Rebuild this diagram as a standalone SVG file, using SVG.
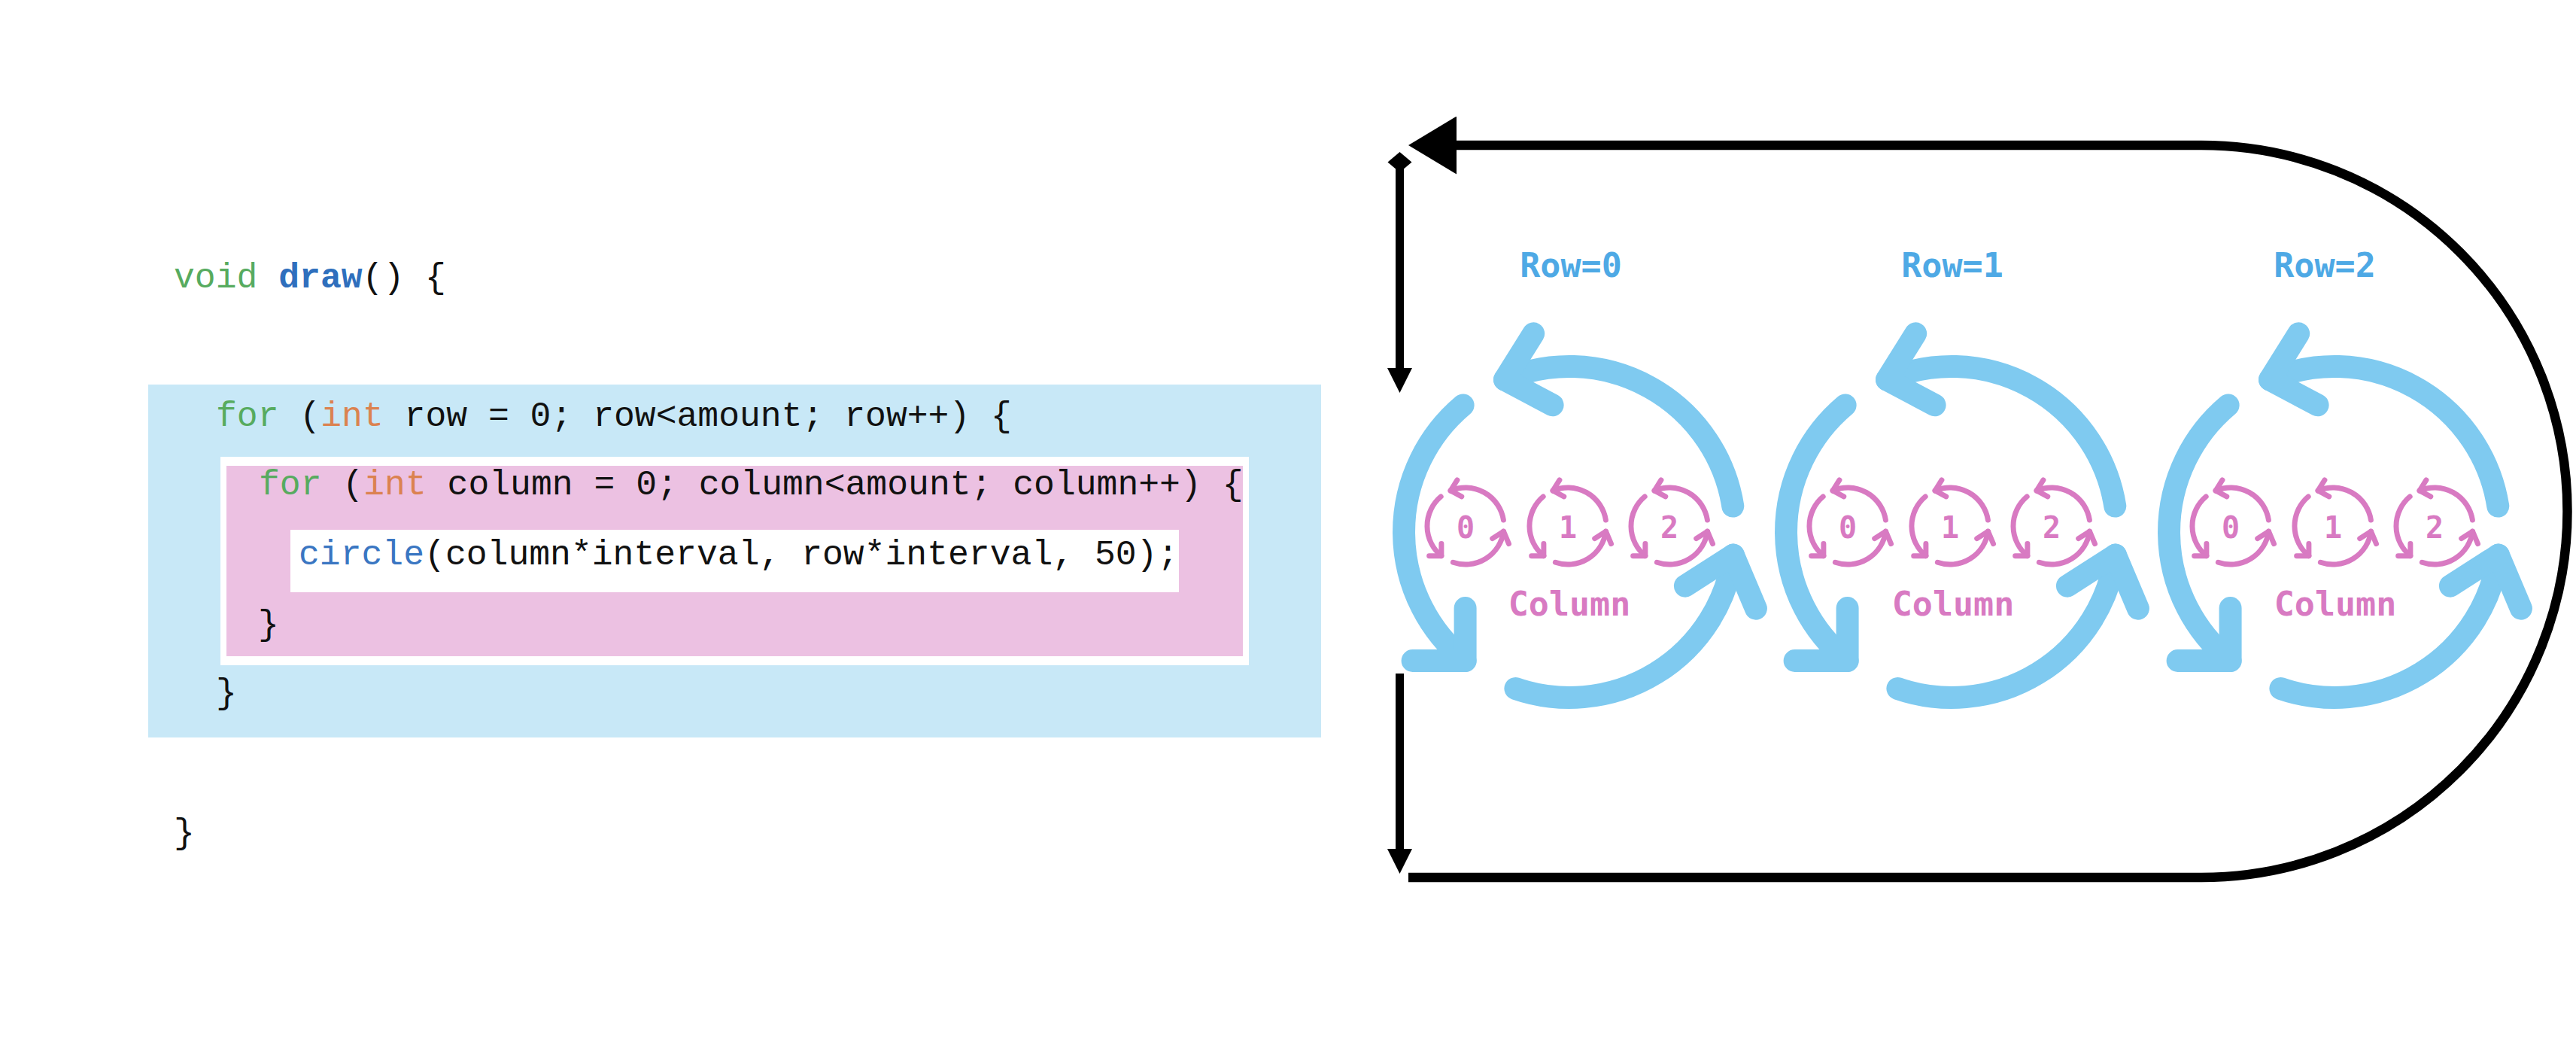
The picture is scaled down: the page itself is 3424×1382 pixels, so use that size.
<svg xmlns="http://www.w3.org/2000/svg" xmlns:xlink="http://www.w3.org/1999/xlink" width="3424" height="1382" viewBox="0 0 3424 1382">
<style>
.code{font-family:"Courier New","Liberation Mono",monospace;font-size:46.4px;fill:#111;}
.kw{fill:#57ab5f;}
.ty{fill:#db8250;}
.fn{fill:#3a76c2;}
.fnb{fill:#2f6fbd;font-weight:bold;}
.lbl{font-family:"DejaVu Sans Mono","Liberation Mono",monospace;font-weight:bold;text-anchor:middle;}
.row{font-size:45px;fill:#4ea9e5;}
.col{font-size:45px;fill:#d87ac2;}
.dig{font-size:40px;fill:#d87ac2;}
.loop{fill:none;stroke:#000;}
.cyc path{fill:none;stroke-width:30;stroke-linecap:round;stroke-linejoin:round;}
</style>
<defs>
<g id="cycle" class="cyc">
<path d="M217.3,-34.4 A220,220 0 0 0 -86,-202.5"/>
<path d="M-47.8,-263.6 L-86,-202.5 L-22.4,-168.7"/>
<path d="M-141.4,-168.5 A220,220 0 0 0 -138.4,171"/>
<path d="M-138.4,101 L-138.4,171 L-208.4,171"/>
<path d="M-71.6,208 A220,220 0 0 0 217.9,30.6"/>
<path d="M153.9,71.6 L217.9,30.6 L247.9,101.6"/>
</g>
<marker id="bigArrow" markerUnits="userSpaceOnUse" viewBox="0 0 64 77" refX="0" refY="38.5" markerWidth="64" markerHeight="77" orient="auto">
<path d="M0,0 L64,38.5 L0,77 Z" fill="#000"/>
</marker>
<marker id="smallArrow" markerUnits="userSpaceOnUse" viewBox="0 0 33 33" refX="0" refY="16.5" markerWidth="33" markerHeight="33" orient="auto">
<path d="M0,0 L33,16.5 L0,33 Z" fill="#000"/>
</marker>
<marker id="diamond" markerUnits="userSpaceOnUse" viewBox="-14 -17 28 34" refX="0" refY="0" markerWidth="28" markerHeight="34" orient="auto">
<path d="M-13.5,0 L0,-16 L13.5,0 L0,16 Z" fill="#000"/>
</marker>
</defs>
<rect width="3424" height="1382" fill="#fff"/>

<g id="code">
<g id="outer-loop-box">
<rect x="197" y="511" width="1559" height="469" fill="#c8e8f7"/>
</g>
<g id="inner-loop-box">
<rect x="293" y="607" width="1367" height="277" fill="#fff"/>
<rect x="301" y="619" width="1351" height="253" fill="#ecc1e2"/>
</g>
<g id="body-box">
<rect x="386" y="704" width="1181" height="83" fill="#fff"/>
</g>
<text class="code" x="231" y="382"><tspan class="kw">void</tspan> <tspan class="fnb">draw</tspan>() {</text>
<text class="code" x="287" y="566"><tspan class="kw">for</tspan> (<tspan class="ty">int</tspan> row = 0; row&lt;amount; row++) {</text>
<text class="code" x="344" y="657"><tspan class="kw">for</tspan> (<tspan class="ty">int</tspan> column = 0; column&lt;amount; column++) {</text>
<text class="code" x="397" y="750"><tspan class="fn">circle</tspan>(column*interval, row*interval, 50);</text>
<text class="code" x="343" y="843">}</text>
<text class="code" x="287" y="934">}</text>
<text class="code" x="231" y="1120">}</text>
</g>

<g id="connectors">
<path class="loop" stroke-width="12.5" d="M1872,1166 H2926 A486.5,486.5 0 0 0 2926,193 H1936" marker-end="url(#bigArrow)"/>
<path class="loop" stroke-width="11" d="M1860.5,215.5 V489" marker-start="url(#diamond)" marker-end="url(#smallArrow)"/>
<path class="loop" stroke-width="11" d="M1860.5,895 V1128" marker-end="url(#smallArrow)"/>
</g>

<g id="row0">
<text class="lbl row" x="2088" y="368">Row=0</text>
<use xlink:href="#cycle" href="#cycle" transform="translate(2086,707)" stroke="#7fcaf0"/>
<use xlink:href="#cycle" href="#cycle" transform="translate(1948,699) scale(0.232)" stroke="#d87ac2"/>
<use xlink:href="#cycle" href="#cycle" transform="translate(2084,699) scale(0.232)" stroke="#d87ac2"/>
<use xlink:href="#cycle" href="#cycle" transform="translate(2219,699) scale(0.232)" stroke="#d87ac2"/>
<text class="lbl dig" x="1948" y="715">0</text>
<text class="lbl dig" x="2084" y="715">1</text>
<text class="lbl dig" x="2219" y="715">2</text>
<text class="lbl col" x="2086" y="818">Column</text>
</g>

<g id="row1">
<text class="lbl row" x="2595" y="368">Row=1</text>
<use xlink:href="#cycle" href="#cycle" transform="translate(2594,707)" stroke="#7fcaf0"/>
<use xlink:href="#cycle" href="#cycle" transform="translate(2456,699) scale(0.232)" stroke="#d87ac2"/>
<use xlink:href="#cycle" href="#cycle" transform="translate(2592,699) scale(0.232)" stroke="#d87ac2"/>
<use xlink:href="#cycle" href="#cycle" transform="translate(2727,699) scale(0.232)" stroke="#d87ac2"/>
<text class="lbl dig" x="2456" y="715">0</text>
<text class="lbl dig" x="2592" y="715">1</text>
<text class="lbl dig" x="2727" y="715">2</text>
<text class="lbl col" x="2596" y="818">Column</text>
</g>

<g id="row2">
<text class="lbl row" x="3090" y="368">Row=2</text>
<use xlink:href="#cycle" href="#cycle" transform="translate(3103,707)" stroke="#7fcaf0"/>
<use xlink:href="#cycle" href="#cycle" transform="translate(2965,699) scale(0.232)" stroke="#d87ac2"/>
<use xlink:href="#cycle" href="#cycle" transform="translate(3101,699) scale(0.232)" stroke="#d87ac2"/>
<use xlink:href="#cycle" href="#cycle" transform="translate(3236,699) scale(0.232)" stroke="#d87ac2"/>
<text class="lbl dig" x="2965" y="715">0</text>
<text class="lbl dig" x="3101" y="715">1</text>
<text class="lbl dig" x="3236" y="715">2</text>
<text class="lbl col" x="3104" y="818">Column</text>
</g>
</svg>
